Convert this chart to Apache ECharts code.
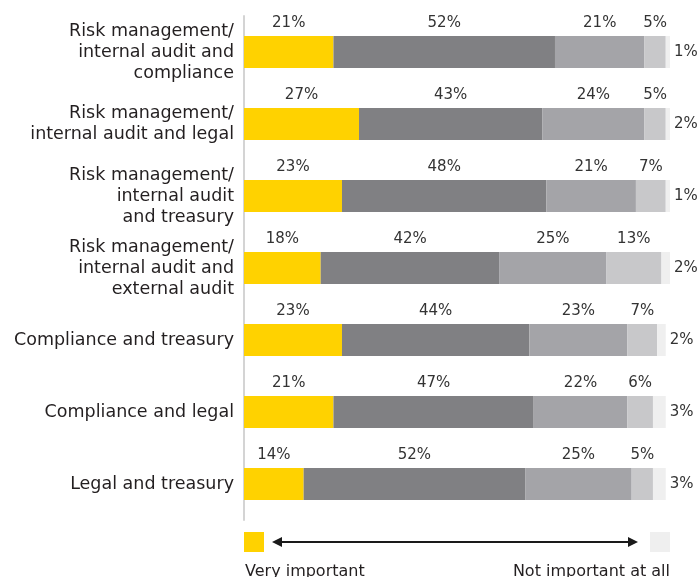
<!DOCTYPE html>
<html>
<head>
<meta charset="utf-8">
<style>
  html, body { margin: 0; padding: 0; background: #ffffff; }
  #chart { width: 697px; height: 577px; }
</style>
<script src="https://cdn.jsdelivr.net/npm/echarts@6/dist/echarts.min.js"></script>
</head>
<body>
<div id="chart"></div>
<script>
// Pairings of functions, top to bottom
const categories = [
  'Risk management/\ninternal audit and\ncompliance',
  'Risk management/\ninternal audit and legal',
  'Risk management/\ninternal audit\nand treasury',
  'Risk management/\ninternal audit and\nexternal audit',
  'Compliance and treasury',
  'Compliance and legal',
  'Legal and treasury'
];

// Share of respondents (%) per importance level
const veryImportant      = [21, 27, 23, 18, 23, 21, 14];
const important          = [52, 43, 48, 42, 44, 47, 52];
const somewhatImportant  = [21, 24, 21, 25, 23, 22, 25];
const notVeryImportant   = [5, 5, 7, 13, 7, 6, 5];
const notImportantAtAll  = [1, 2, 1, 2, 2, 3, 3];

const scaleEnds = ['Very important', 'Not important at all'];

const colors = ['#FFD200', '#808083', '#A4A4A8', '#C8C8CA', '#EFEFEF'];
const numFont = 'DejaVu Sans';
const textFont = 'DejaVu Sans';

function layer(name, data, color, labelPos) {
  return {
    name: name,
    type: 'bar',
    stack: 'total',
    barWidth: 32,
    data: data,
    itemStyle: { color: color },
    label: {
      show: true,
      position: labelPos,
      distance: labelPos === 'top' ? 5 : 4,
      formatter: '{c}%',
      color: '#333333',
      fontFamily: numFont,
      fontSize: 15
    },
    emphasis: { disabled: true }
  };
}

const chart = echarts.init(document.getElementById('chart'), null, { renderer: 'canvas' });

chart.setOption({
  animation: false,
  backgroundColor: '#ffffff',
  grid: { left: 244, right: 27, top: 16, height: 504, containLabel: false },
  xAxis: {
    type: 'value',
    min: 0,
    max: 100,
    show: false
  },
  yAxis: {
    type: 'category',
    inverse: true,
    data: categories,
    axisLine: { show: true, lineStyle: { color: '#D4D4D4', width: 2 } },
    axisTick: { show: false },
    axisLabel: {
      margin: 10,
      color: '#231F20',
      fontFamily: textFont,
      fontSize: 17.5,
      lineHeight: 21,
      align: 'right'
    }
  },
  series: [
    layer('Very important', veryImportant, colors[0], 'top'),
    layer('Important', important, colors[1], 'top'),
    layer('Somewhat important', somewhatImportant, colors[2], 'top'),
    layer('Not very important', notVeryImportant, colors[3], 'top'),
    layer('Not important at all', notImportantAtAll, colors[4], 'right')
  ],
  graphic: [
    { type: 'rect', left: 244, top: 532, shape: { width: 20, height: 20 }, style: { fill: colors[0] } },
    { type: 'rect', left: 650, top: 532, shape: { width: 20, height: 20 }, style: { fill: colors[4] } },
    { type: 'line', shape: { x1: 276, y1: 542, x2: 634, y2: 542 }, style: { stroke: '#1a1a1a', lineWidth: 2 } },
    { type: 'polygon', shape: { points: [[272, 542], [282, 537], [282, 547]] }, style: { fill: '#1a1a1a' } },
    { type: 'polygon', shape: { points: [[638, 542], [628, 537], [628, 547]] }, style: { fill: '#1a1a1a' } },
    { type: 'text', left: 245, top: 564, style: { text: scaleEnds[0], fill: '#231F20', font: '16px "DejaVu Sans"' } },
    { type: 'text', right: 27, top: 564, style: { text: scaleEnds[1], fill: '#231F20', font: '16px "DejaVu Sans"', align: 'right' } }
  ]
});
</script>
</body>
</html>
